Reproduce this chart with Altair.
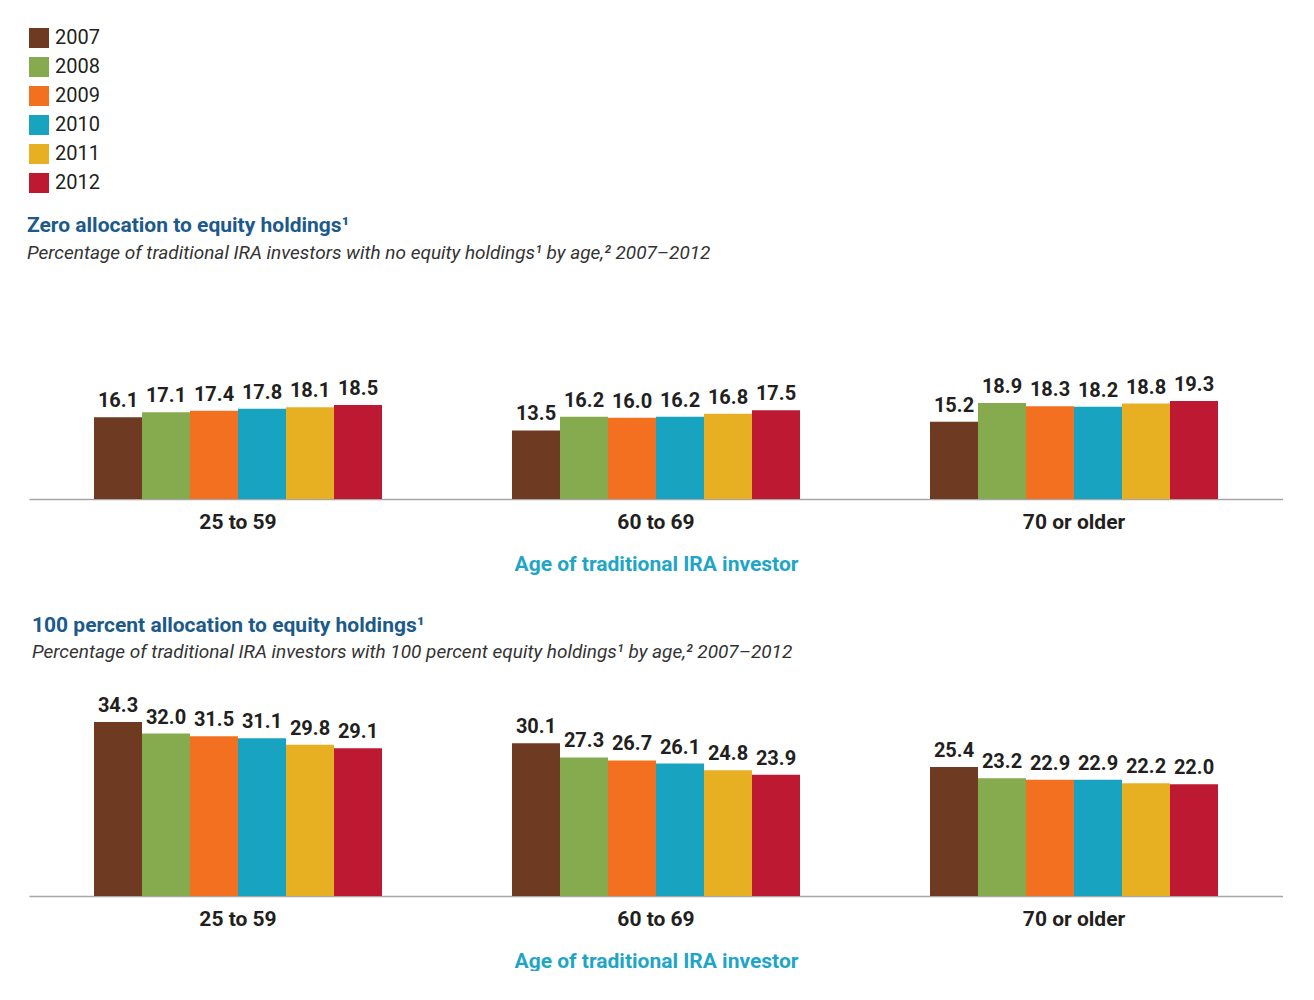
import altair as alt
import pandas as pd

years = ["2007", "2008", "2009", "2010", "2011", "2012"]
colors = ["#6e3b22", "#86ab4f", "#f37021", "#18a4c0", "#e6b022", "#be1932"]
ages = ["25 to 59", "60 to 69", "70 or older"]

# Zero allocation to equity holdings (percent)
zero_25_59 = [16.1, 17.1, 17.4, 17.8, 18.1, 18.5]
zero_60_69 = [13.5, 16.2, 16.0, 16.2, 16.8, 17.5]
zero_70_up = [15.2, 18.9, 18.3, 18.2, 18.8, 19.3]

# 100 percent allocation to equity holdings (percent)
full_25_59 = [34.3, 32.0, 31.5, 31.1, 29.8, 29.1]
full_60_69 = [30.1, 27.3, 26.7, 26.1, 24.8, 23.9]
full_70_up = [25.4, 23.2, 22.9, 22.9, 22.2, 22.0]

FONT = "Roboto"
TEXT_COLOR = "#231f20"


def make_df(groups):
    rows = []
    for age, vals in zip(ages, groups):
        for y, v in zip(years, vals):
            rows.append({"age": age, "year": y, "value": v})
    return pd.DataFrame(rows)


LEGEND = alt.Legend(
    title=None, orient="top", direction="vertical", offset=22,
    symbolType="square", symbolSize=400, symbolStrokeWidth=0,
    symbolOpacity=1, labelFontSize=20, labelFont=FONT,
    labelColor=TEXT_COLOR, rowPadding=9, padding=0, labelOffset=6,
)


def panel(df, title, subtitle, title_dx, offset, sub_pad):
    base = alt.Chart(df).encode(
        x=alt.X(
            "age:N", sort=ages,
            scale=alt.Scale(paddingInner=0.311, paddingOuter=0.1555),
            axis=alt.Axis(title="Age of traditional IRA investor", labelAngle=0),
        ),
        xOffset=alt.XOffset(
            "year:N", sort=years, scale=alt.Scale(paddingInner=0, paddingOuter=0)
        ),
        y=alt.Y("value:Q", scale=alt.Scale(domain=[0, 40]), axis=None),
    )
    bars = base.mark_bar().encode(
        color=alt.Color(
            "year:N", sort=years,
            scale=alt.Scale(domain=years, range=colors),
            legend=LEGEND,
        )
    )
    text = base.mark_text(
        dy=-10, baseline="alphabetic", fontSize=20, fontWeight="bold",
        font=FONT, color=TEXT_COLOR,
    ).encode(text=alt.Text("value:Q", format=".1f"))
    return alt.layer(bars, text).properties(
        width=1254, height=203,
        title=alt.TitleParams(
            text=title, subtitle=subtitle, anchor="start", frame="group",
            offset=offset, dx=title_dx, font=FONT, fontSize=21, fontWeight="bold",
            color="#1b5a8a", subtitleFont=FONT, subtitleFontSize=19,
            subtitleFontStyle="italic", subtitleColor="#333333",
            subtitlePadding=sub_pad,
        ),
    )


p1 = panel(
    make_df([zero_25_59, zero_60_69, zero_70_up]),
    "Zero allocation to equity holdings¹",
    "Percentage of traditional IRA investors with no equity holdings¹ by age,² 2007–2012",
    -2, 33, 8,
)
p2 = panel(
    make_df([full_25_59, full_60_69, full_70_up]),
    "100 percent allocation to equity holdings¹",
    "Percentage of traditional IRA investors with 100 percent equity holdings¹ by age,² 2007–2012",
    3, 31, 7,
)

chart = (
    alt.vconcat(p1, p2, spacing=41)
    .properties(padding={"left": 19, "top": 20, "right": 0, "bottom": 0})
    .configure_view(stroke=None)
    .configure_axis(
        labelFont=FONT, labelFontSize=21, labelFontWeight="bold",
        labelColor=TEXT_COLOR, labelPadding=12, ticks=False, grid=False,
        domainColor="#a6a6a6", domainWidth=1.5,
        titleFont=FONT, titleFontSize=21, titleFontWeight="bold",
        titleColor="#1fa5c6", titlePadding=21,
    )
)

chart.save("out.html", embed_options={"renderer": "svg", "actions": False})
